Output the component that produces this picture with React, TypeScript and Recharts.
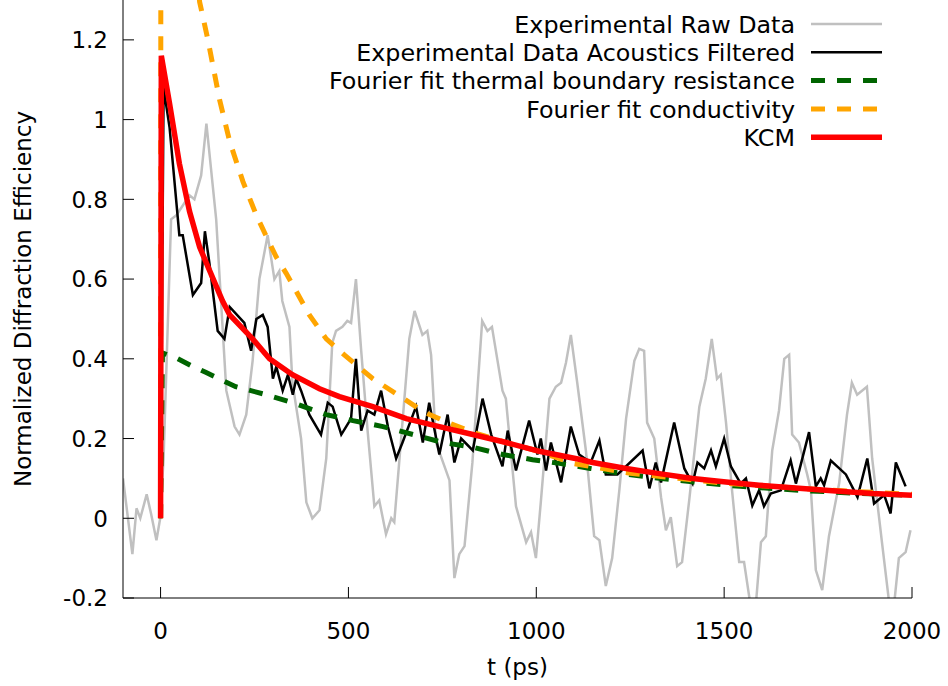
import { Legend, Line, LineChart, XAxis, YAxis } from "recharts";

type Pt = [number, number];

const xTicks = [0, 500, 1000, 1500, 2000];
const yTicks = [-0.2, 0, 0.2, 0.4, 0.6, 0.8, 1, 1.2];

// [t (ps), signal]
const rawData: Pt[] = [
  [-100, 0.1], [-75, -0.09], [-64, 0.025], [-54, 0.0], [-37, 0.06], [-25, 0.01], [-11, -0.055], [-1, 0.0],
  [8, 0.15], [28, 0.75], [42, 0.76], [77, 0.81], [90, 0.8], [108, 0.86], [122, 0.99], [148, 0.75],
  [175, 0.32], [197, 0.23], [210, 0.21], [228, 0.26], [245, 0.395], [263, 0.6], [285, 0.71], [303, 0.6],
  [316, 0.62], [324, 0.545], [343, 0.48], [351, 0.34], [374, 0.2], [388, 0.04], [404, 0.0], [423, 0.02],
  [441, 0.15], [457, 0.44], [467, 0.47], [484, 0.48], [497, 0.495], [507, 0.49], [520, 0.6], [534, 0.42],
  [551, 0.22], [569, 0.03], [582, 0.045], [600, -0.04], [614, 0.0], [622, -0.01], [636, 0.15], [662, 0.45],
  [676, 0.52], [697, 0.46], [710, 0.47], [720, 0.41], [733, 0.19], [769, 0.095], [782, -0.15], [795, -0.09],
  [809, -0.07], [830, 0.14], [856, 0.495], [870, 0.47], [882, 0.48], [910, 0.32], [919, 0.3], [946, 0.03],
  [973, -0.06], [986, -0.035], [999, -0.1], [1012, 0.04], [1035, 0.3], [1052, 0.33], [1066, 0.34], [1079, 0.39],
  [1092, 0.46], [1109, 0.34], [1132, 0.17], [1154, -0.045], [1168, -0.055], [1185, -0.17], [1202, -0.1], [1221, 0.07],
  [1239, 0.25], [1261, 0.395], [1274, 0.425], [1287, 0.42], [1295, 0.24], [1314, 0.2], [1332, 0.053], [1345, -0.03],
  [1358, 0.003], [1375, -0.12], [1388, -0.11], [1407, 0.045], [1434, 0.28], [1451, 0.35], [1467, 0.45], [1481, 0.35],
  [1491, 0.36], [1505, 0.24], [1521, 0.07], [1540, -0.11], [1553, -0.11], [1572, -0.23], [1585, -0.21], [1598, -0.06],
  [1611, -0.045], [1628, 0.17], [1646, 0.27], [1660, 0.4], [1673, 0.41], [1681, 0.21], [1699, 0.19], [1721, 0.11],
  [1731, 0.07], [1744, -0.13], [1761, -0.18], [1779, -0.045], [1806, 0.087], [1827, 0.26], [1840, 0.34], [1854, 0.31],
  [1880, 0.33], [1894, 0.15], [1920, -0.06], [1939, -0.21], [1952, -0.22], [1965, -0.1], [1983, -0.085], [1996, -0.03],
];

const filteredData: Pt[] = [
  [0, 0], [8, 1.08], [24, 0.98], [50, 0.71], [59, 0.71], [86, 0.56], [108, 0.59], [118, 0.72],
  [130, 0.64], [152, 0.47], [170, 0.45], [184, 0.53], [223, 0.49], [241, 0.42], [255, 0.5], [272, 0.51],
  [285, 0.48], [299, 0.35], [308, 0.38], [325, 0.32], [339, 0.36], [352, 0.31], [361, 0.35], [374, 0.32],
  [396, 0.26], [427, 0.21], [445, 0.29], [458, 0.28], [481, 0.21], [494, 0.23], [507, 0.25], [520, 0.4],
  [534, 0.22], [551, 0.27], [569, 0.26], [587, 0.32], [605, 0.23], [627, 0.15], [644, 0.19], [680, 0.28],
  [698, 0.19], [715, 0.29], [742, 0.16], [764, 0.26], [782, 0.14], [800, 0.2], [831, 0.17], [857, 0.3],
  [880, 0.21], [910, 0.13], [924, 0.22], [946, 0.12], [981, 0.245], [1003, 0.16], [1012, 0.2], [1026, 0.12],
  [1039, 0.19], [1066, 0.09], [1092, 0.23], [1114, 0.16], [1145, 0.14], [1168, 0.195], [1185, 0.11], [1216, 0.11],
  [1283, 0.17], [1301, 0.075], [1318, 0.14], [1332, 0.09], [1367, 0.24], [1394, 0.125], [1416, 0.087], [1429, 0.14],
  [1447, 0.125], [1465, 0.17], [1478, 0.13], [1500, 0.2], [1518, 0.13], [1544, 0.087], [1558, 0.1], [1575, 0.032],
  [1593, 0.07], [1606, 0.03], [1624, 0.062], [1651, 0.07], [1677, 0.145], [1691, 0.087], [1726, 0.216], [1744, 0.08],
  [1757, 0.1], [1766, 0.083], [1784, 0.145], [1824, 0.11], [1855, 0.053], [1881, 0.15], [1899, 0.037], [1926, 0.058],
  [1943, 0.012], [1957, 0.14], [1983, 0.08],
];

const boundaryFit: Pt[] = [
  [0, 0], [5, 0.415], [46, 0.4], [81, 0.383], [120, 0.366], [200, 0.33], [281, 0.31], [361, 0.287],
  [441, 0.26], [512, 0.245], [592, 0.23], [672, 0.21], [751, 0.19], [831, 0.178], [910, 0.16], [990, 0.147],
  [1066, 0.137], [1144, 0.125], [1223, 0.113], [1303, 0.103], [1383, 0.095], [1463, 0.087], [1543, 0.08],
  [1700, 0.07], [1850, 0.063], [2000, 0.057],
];

const conductivityFit: Pt[] = [
  [0, 0], [3, 6], [40, 2.2], [80, 1.5], [104, 1.295], [126, 1.2], [157, 1.05], [184, 0.945],
  [219, 0.845], [255, 0.76], [290, 0.69], [308, 0.655], [334, 0.615], [352, 0.585], [396, 0.51], [441, 0.45],
  [489, 0.41], [565, 0.35], [631, 0.31], [702, 0.266], [773, 0.237], [840, 0.213], [919, 0.19], [999, 0.17],
  [1100, 0.137], [1250, 0.113], [1500, 0.088], [1750, 0.072], [2000, 0.06],
];

const kcmFit: Pt[] = [
  [0, 0], [2, 1.16], [24, 1.04], [50, 0.89], [77, 0.77], [104, 0.68], [165, 0.545], [184, 0.51],
  [245, 0.45], [290, 0.4], [351, 0.36], [423, 0.325], [476, 0.305], [529, 0.29], [565, 0.28], [654, 0.25],
  [742, 0.23], [831, 0.21], [920, 0.19], [1008, 0.168], [1114, 0.148], [1150, 0.14], [1239, 0.125], [1327, 0.112],
  [1416, 0.1], [1505, 0.091], [1593, 0.083], [1717, 0.074], [1806, 0.068], [1894, 0.062], [2000, 0.058],
];

const series = [
  { name: "Experimental Raw Data", pts: rawData, color: "#c0c0c0", width: 2.5, dash: undefined },
  { name: "Experimental Data Acoustics Filtered", pts: filteredData, color: "#000000", width: 2.5, dash: undefined },
  { name: "Fourier fit thermal boundary resistance", pts: boundaryFit, color: "#006400", width: 5, dash: "14 12" },
  { name: "Fourier fit conductivity", pts: conductivityFit, color: "#ffa500", width: 5, dash: "14 12" },
  { name: "KCM", pts: kcmFit, color: "#ff0000", width: 5.5, dash: undefined },
];

const FONT = "'DejaVu Sans', sans-serif";
const FS = 23;
const KEY_FS = 23.8;
const TICK = 11;

const rows = (pts: Pt[]) => pts.map(([t, v]) => ({ t, v }));

function LeftTick({ x, y, payload }: any) {
  return (
    <g>
      <line x1={x} x2={x + TICK} y1={y} y2={y} stroke="#000" />
      <text x={x - 15} y={y + 8.4} textAnchor="end" fontSize={FS} fontFamily={FONT} fill="#000">
        {String(payload.value)}
      </text>
    </g>
  );
}

function RightTick({ x, y }: any) {
  return <line x1={x} x2={x - TICK} y1={y} y2={y} stroke="#000" />;
}

function BottomTick({ x, y, payload }: any) {
  return (
    <g>
      <line x1={x} x2={x} y1={y} y2={y - TICK} stroke="#000" />
      <text x={x} y={y + 41} textAnchor="middle" fontSize={FS} fontFamily={FONT} fill="#000">
        {String(payload.value)}
      </text>
    </g>
  );
}

function TopTick({ x, y }: any) {
  return <line x1={x} x2={x} y1={y} y2={y + TICK} stroke="#000" />;
}

function YTitle({ viewBox }: any) {
  const cy = viewBox.y + viewBox.height / 2;
  return (
    <text x={31} y={cy} transform={`rotate(-90 31 ${cy})`} textAnchor="middle" fontSize={FS} fontFamily={FONT} fill="#000">
      Normalized Diffraction Efficiency
    </text>
  );
}

function XTitle({ viewBox }: any) {
  return (
    <text x={viewBox.x + viewBox.width / 2} y={viewBox.y + 77} textAnchor="middle" fontSize={FS} fontFamily={FONT} fill="#000">
      t (ps)
    </text>
  );
}

function KeyBox() {
  return (
    <svg width={948} height={160}>
      {series.map((s, i) => {
        const cy = 24 + i * 28.3;
        return (
          <g key={s.name}>
            <text x={795} y={cy + 8.6} textAnchor="end" fontSize={KEY_FS} fontFamily={FONT} fill="#000">
              {s.name}
            </text>
            <line x1={811} x2={882} y1={cy} y2={cy} stroke={s.color} strokeWidth={s.width} strokeDasharray={s.dash} />
          </g>
        );
      })}
    </svg>
  );
}

export default function App() {
  return (
    <div>
      <style>{"body{margin:0;background:#fff}"}</style>
      <LineChart width={948} height={686} margin={{ top: 0, right: 36, bottom: 0, left: 0 }}>
        <XAxis
          dataKey="t"
          type="number"
          domain={[-100, 2000]}
          ticks={xTicks}
          interval={0}
          allowDataOverflow
          height={88}
          axisLine={{ stroke: "#000" }}
          tickLine={false}
          tickSize={0}
          tickMargin={0}
          tick={BottomTick}
          label={(p: any) => <XTitle {...p} />}
        />
        <XAxis
          xAxisId="top"
          orientation="top"
          dataKey="t"
          type="number"
          domain={[-100, 2000]}
          ticks={xTicks}
          interval={0}
          allowDataOverflow
          height={0}
          axisLine={false}
          tickLine={false}
          tickSize={0}
          tickMargin={0}
          tick={TopTick}
        />
        <YAxis
          type="number"
          domain={[-0.2, 1.3]}
          ticks={yTicks}
          interval={0}
          allowDataOverflow
          width={123}
          axisLine={{ stroke: "#000" }}
          tickLine={false}
          tickSize={0}
          tickMargin={0}
          tick={LeftTick}
          label={(p: any) => <YTitle {...p} />}
        />
        <YAxis
          yAxisId="right"
          orientation="right"
          type="number"
          domain={[-0.2, 1.3]}
          ticks={yTicks}
          interval={0}
          allowDataOverflow
          width={0}
          axisLine={{ stroke: "#000" }}
          tickLine={false}
          tickSize={0}
          tickMargin={0}
          tick={RightTick}
        />
        {series.map((s) => (
          <Line
            key={s.name}
            data={rows(s.pts)}
            dataKey="v"
            name={s.name}
            type="linear"
            stroke={s.color}
            strokeWidth={s.width}
            strokeDasharray={s.dash}
            dot={false}
            activeDot={false}
            isAnimationActive={false}
          />
        ))}
        <Legend
          layout="horizontal"
          verticalAlign="middle"
          align="center"
          width={948}
          height={160}
          wrapperStyle={{ left: 0, top: 0, pointerEvents: "none" }}
          content={() => <KeyBox />}
        />
      </LineChart>
    </div>
  );
}
